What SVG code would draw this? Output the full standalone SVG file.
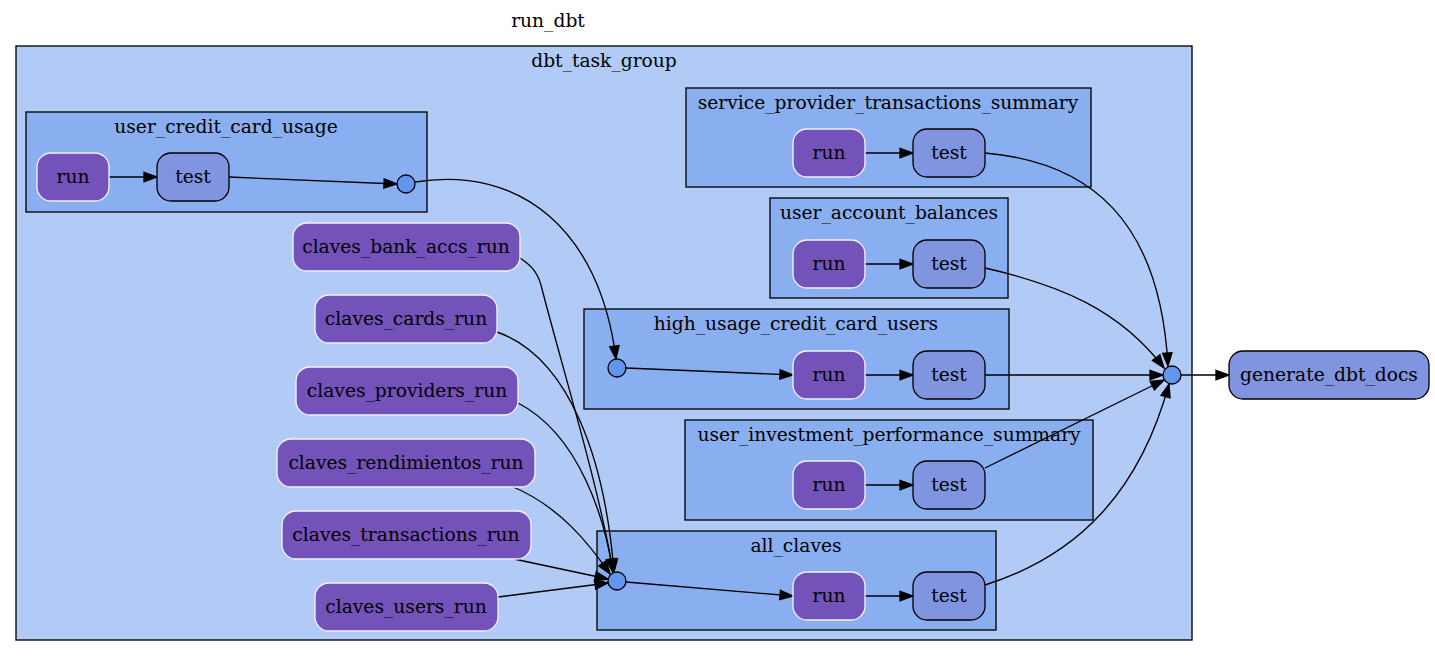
<svg xmlns="http://www.w3.org/2000/svg" width="1435" height="657" viewBox="0 0 1435 657">
<defs>
<marker id="ah" markerUnits="userSpaceOnUse" markerWidth="14" markerHeight="10" refX="13" refY="4.7" orient="auto" overflow="visible">
<path d="M0,0 L13,4.7 L0,9.4 z" fill="#000" stroke="#000" stroke-width="1.3"/>
</marker>
<style>
text{font-family:"DejaVu Serif","Liberation Serif",serif;font-size:18.67px;fill:#000;text-anchor:middle}
.outer{fill:#b1caf6;stroke:#000;stroke-width:1.33}
.inner{fill:#8aaff1;stroke:#000;stroke-width:1.33}
.run{fill:#7352ba;stroke:#f4f2fc;stroke-width:1.33}
.test{fill:#8194e0;stroke:#000;stroke-width:1.33}
.join{fill:#6495ed;stroke:#000;stroke-width:1.33}
.e{fill:none;stroke:#000;stroke-width:1.33;marker-end:url(#ah)}
</style>
</defs>
<rect width="1435" height="657" fill="#fff"/>
<text x="548" y="27">run_dbt</text>
<g id="dbt_task_group">
<rect class="outer" x="16" y="46" width="1176" height="594"/>
<text x="604" y="67">dbt_task_group</text>
</g>
<g id="user_credit_card_usage">
<rect class="inner" x="26" y="112" width="401" height="100"/>
<text x="226" y="133">user_credit_card_usage</text>
</g>
<g id="service_provider_transactions_summary">
<rect class="inner" x="686" y="88" width="405" height="99"/>
<text x="888" y="109">service_provider_transactions_summary</text>
</g>
<g id="user_account_balances">
<rect class="inner" x="770" y="198" width="238" height="100"/>
<text x="889" y="219">user_account_balances</text>
</g>
<g id="high_usage_credit_card_users">
<rect class="inner" x="584" y="309" width="425" height="100"/>
<text x="796" y="330">high_usage_credit_card_users</text>
</g>
<g id="user_investment_performance_summary">
<rect class="inner" x="685" y="420" width="408" height="100"/>
<text x="889" y="441">user_investment_performance_summary</text>
</g>
<g id="all_claves">
<rect class="inner" x="597" y="531" width="399" height="99"/>
<text x="796" y="552">all_claves</text>
</g>
<g id="connectors">
<path class="e" d="M109,177 L157,177"/>
<path class="e" d="M229,177 L397,184"/>
<path class="e" d="M415,182 C520,165 600,230 616,359"/>
<path class="e" d="M865,153 L913,153"/>
<path class="e" d="M985,153 C1090,162 1160,220 1168,366"/>
<path class="e" d="M865,264 L913,264"/>
<path class="e" d="M985,268 C1060,285 1120,310 1164,368"/>
<path class="e" d="M626,368 L793,375"/>
<path class="e" d="M865,375 L913,375"/>
<path class="e" d="M985,375 L1163,375"/>
<path class="e" d="M865,485 L913,485"/>
<path class="e" d="M985,468 L1164,380"/>
<path class="e" d="M626,582 L793,596"/>
<path class="e" d="M865,596 L913,596"/>
<path class="e" d="M985,585 C1080,555 1140,490 1169,384"/>
<path class="e" d="M1181,375 L1229,375"/>
<path class="e" d="M520,258 C532,266 537,272 541,285 C560,360 600,490 613,572"/>
<path class="e" d="M497,332 C570,358 605,460 614,572"/>
<path class="e" d="M518,403 C580,435 605,520 613,572"/>
<path class="e" d="M511,486 C560,506 590,545 610,574"/>
<path class="e" d="M514,559 L608,579"/>
<path class="e" d="M498,597 L608,583"/>
</g>
<g id="ucc_run"><rect class="run" x="37" y="153" width="72" height="48" rx="14"/><text x="73" y="183">run</text></g>
<g id="ucc_test"><rect class="test" x="157" y="153" width="72" height="48" rx="14"/><text x="193" y="183">test</text></g>
<g id="ucc_join"><circle class="join" cx="406" cy="184" r="9"/></g>
<g id="spt_run"><rect class="run" x="793" y="129" width="72" height="48" rx="14"/><text x="829" y="159">run</text></g>
<g id="spt_test"><rect class="test" x="913" y="129" width="72" height="48" rx="14"/><text x="949" y="159">test</text></g>
<g id="uab_run"><rect class="run" x="793" y="240" width="72" height="48" rx="14"/><text x="829" y="270">run</text></g>
<g id="uab_test"><rect class="test" x="913" y="240" width="72" height="48" rx="14"/><text x="949" y="270">test</text></g>
<g id="hu_join"><circle class="join" cx="617" cy="368" r="9"/></g>
<g id="hu_run"><rect class="run" x="793" y="351" width="72" height="48" rx="14"/><text x="829" y="381">run</text></g>
<g id="hu_test"><rect class="test" x="913" y="351" width="72" height="48" rx="14"/><text x="949" y="381">test</text></g>
<g id="uip_run"><rect class="run" x="793" y="461" width="72" height="48" rx="14"/><text x="829" y="491">run</text></g>
<g id="uip_test"><rect class="test" x="913" y="461" width="72" height="48" rx="14"/><text x="949" y="491">test</text></g>
<g id="ac_join"><circle class="join" cx="617" cy="581" r="9"/></g>
<g id="ac_run"><rect class="run" x="793" y="572" width="72" height="48" rx="14"/><text x="829" y="602">run</text></g>
<g id="ac_test"><rect class="test" x="913" y="572" width="72" height="48" rx="14"/><text x="949" y="602">test</text></g>
<g id="claves_bank_accs_run"><rect class="run" x="293" y="223" width="227" height="48" rx="14"/><text x="406" y="253">claves_bank_accs_run</text></g>
<g id="claves_cards_run"><rect class="run" x="315" y="295" width="182" height="48" rx="14"/><text x="406" y="325">claves_cards_run</text></g>
<g id="claves_providers_run"><rect class="run" x="296" y="367" width="222" height="48" rx="14"/><text x="407" y="397">claves_providers_run</text></g>
<g id="claves_rendimientos_run"><rect class="run" x="277" y="439" width="258" height="48" rx="14"/><text x="406" y="469">claves_rendimientos_run</text></g>
<g id="claves_transactions_run"><rect class="run" x="282" y="511" width="249" height="48" rx="14"/><text x="406" y="541">claves_transactions_run</text></g>
<g id="claves_users_run"><rect class="run" x="315" y="583" width="183" height="48" rx="14"/><text x="406" y="613">claves_users_run</text></g>
<g id="dbt_join"><circle class="join" cx="1172" cy="375" r="9"/></g>
<g id="generate_dbt_docs"><rect class="test" x="1229" y="351" width="200" height="48" rx="14"/><text x="1329" y="381">generate_dbt_docs</text></g>
</svg>
